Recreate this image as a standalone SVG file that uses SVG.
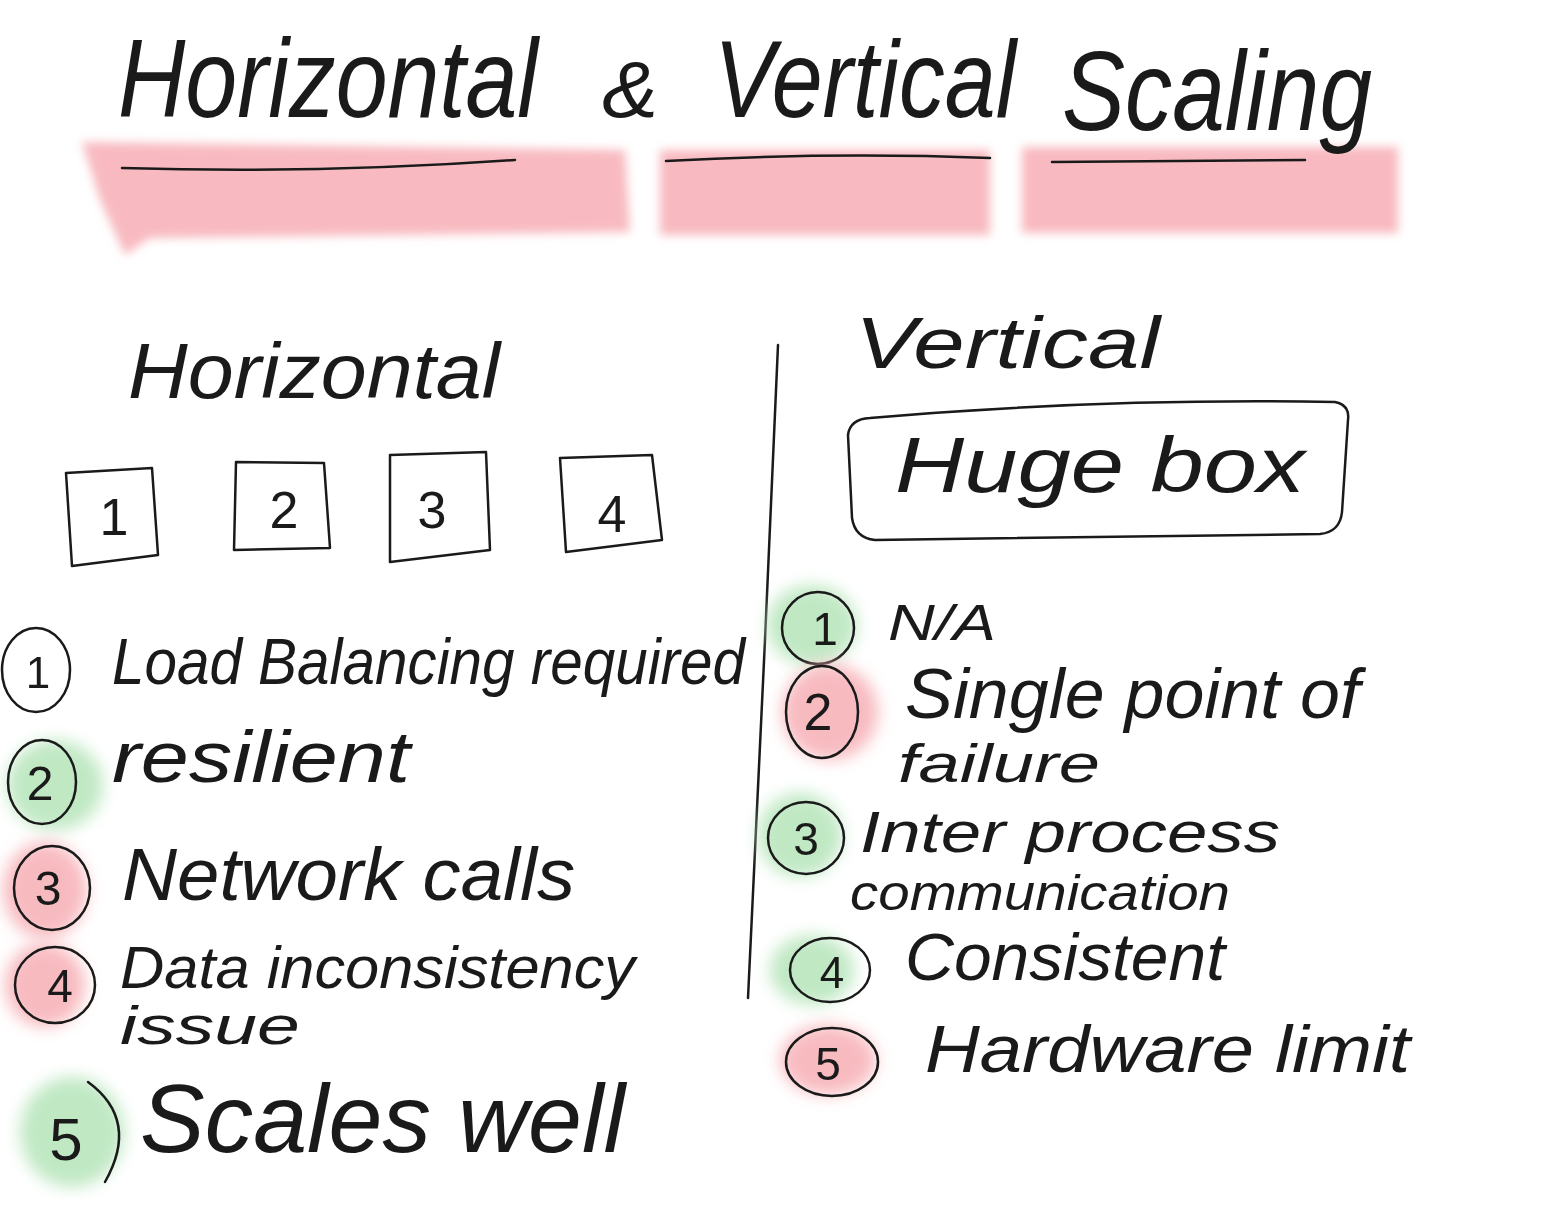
<svg xmlns="http://www.w3.org/2000/svg" width="1555" height="1217" viewBox="0 0 1555 1217">
<defs>
<filter id="blur" x="-30%" y="-30%" width="160%" height="160%"><feGaussianBlur stdDeviation="8"/></filter>
<filter id="blur2" x="-10%" y="-30%" width="120%" height="160%"><feGaussianBlur stdDeviation="5"/></filter>
</defs>
<style>
.ink{fill:none;stroke:#1a1a1a;stroke-width:2.5;stroke-linecap:round;stroke-linejoin:round}
.t{font-family:"Liberation Sans","DejaVu Sans",sans-serif;font-style:italic;fill:#1a1a1a;font-weight:normal}
.num{font-family:"Liberation Sans","DejaVu Sans",sans-serif;fill:#1a1a1a;text-anchor:middle}
.pink{fill:#f7b3b9;opacity:0.9}
.green{fill:#b9e6bd;opacity:0.9}
</style>
<rect width="1555" height="1217" fill="#ffffff"/>

<g id="title">
<g filter="url(#blur2)">
<path class="pink" d="M82 142 L625 150 L630 232 L150 238 L125 255 L100 200 Z"/>
<rect class="pink" x="660" y="150" width="330" height="85"/>
<rect class="pink" x="1022" y="147" width="376" height="86"/>
</g>
<text class="t" transform="translate(118 117) scale(1 1.2)" x="0" y="0" font-size="93" textLength="420" lengthAdjust="spacingAndGlyphs">Horizontal</text>
<text class="t" transform="translate(602 117) scale(1 1.0)" x="0" y="0" font-size="80" textLength="56" lengthAdjust="spacingAndGlyphs">&amp;</text>
<text class="t" transform="translate(714 117) scale(1 1.2)" x="0" y="0" font-size="91" textLength="302" lengthAdjust="spacingAndGlyphs">Vertical</text>
<text class="t" transform="translate(1062 130) scale(1 1.2)" x="0" y="0" font-size="94" textLength="310" lengthAdjust="spacingAndGlyphs">Scaling</text>
<path class="ink" d="M122 168 Q320 174 515 160"/>
<path class="ink" d="M666 161 Q830 152 990 158"/>
<path class="ink" d="M1052 162 L1305 160"/>
</g>

<g id="horizontal">
<text class="t" x="128" y="398" font-size="78" textLength="372" lengthAdjust="spacingAndGlyphs">Horizontal</text>
<g id="box1"><path class="ink" d="M66 473 L152 468 L158 555 L72 566 Z"/><text class="num" x="114" y="535" font-size="52">1</text></g>
<g id="box2"><path class="ink" d="M236 462 L324 463 L330 548 L234 550 Z"/><text class="num" x="284" y="528" font-size="52">2</text></g>
<g id="box3"><path class="ink" d="M390 455 L486 452 L490 550 L390 562 Z"/><text class="num" x="432" y="528" font-size="52">3</text></g>
<g id="box4"><path class="ink" d="M560 458 L652 455 L662 540 L566 552 Z"/><text class="num" x="612" y="532" font-size="52">4</text></g>
</g>

<g id="divider"><path class="ink" d="M778 345 L765 640 L748 998"/></g>

<g id="vertical">
<text class="t" x="855" y="368" font-size="72" textLength="305" lengthAdjust="spacingAndGlyphs">Vertical</text>
<g id="hugebox">
<path class="ink" d="M870 418 Q1100 398 1335 402 Q1350 405 1348 420 L1342 512 Q1340 532 1320 534 L875 540 Q855 538 852 518 L848 435 Q850 419 870 418 Z"/>
<text class="t" x="895" y="492" font-size="78" textLength="410" lengthAdjust="spacingAndGlyphs">Huge box</text>
</g>
</g>

<g id="left-list">
<g id="l1">
<ellipse class="ink" cx="36" cy="670" rx="34" ry="42"/>
<text class="num" x="38" y="688" font-size="44">1</text>
<text class="t" x="112" y="684" font-size="64" textLength="633" lengthAdjust="spacingAndGlyphs">Load Balancing required</text>
</g>
<g id="l2">
<ellipse class="green" cx="55" cy="785" rx="48" ry="45" filter="url(#blur)"/>
<ellipse class="ink" cx="42" cy="782" rx="34" ry="42"/>
<text class="num" x="40" y="800" font-size="48">2</text>
<text class="t" x="112" y="782" font-size="72" textLength="298" lengthAdjust="spacingAndGlyphs">resilient</text>
</g>
<g id="l3">
<ellipse class="pink" cx="45" cy="890" rx="42" ry="48" filter="url(#blur)"/>
<ellipse class="ink" cx="52" cy="888" rx="38" ry="42"/>
<text class="num" x="48" y="905" font-size="48">3</text>
<text class="t" x="122" y="900" font-size="74" textLength="453" lengthAdjust="spacingAndGlyphs">Network calls</text>
</g>
<g id="l4">
<ellipse class="pink" cx="45" cy="985" rx="40" ry="42" filter="url(#blur)"/>
<ellipse class="ink" cx="55" cy="985" rx="40" ry="38"/>
<text class="num" x="60" y="1002" font-size="46">4</text>
<text class="t" x="120" y="988" font-size="60" textLength="515" lengthAdjust="spacingAndGlyphs">Data inconsistency</text>
<text class="t" x="120" y="1044" font-size="54" textLength="180" lengthAdjust="spacingAndGlyphs">issue</text>
</g>
<g id="l5">
<ellipse class="green" cx="72" cy="1132" rx="52" ry="55" filter="url(#blur)"/>
<path class="ink" d="M88 1082 Q140 1120 105 1182"/>
<text class="num" x="66" y="1160" font-size="60">5</text>
<text class="t" x="140" y="1152" font-size="96" textLength="485" lengthAdjust="spacingAndGlyphs">Scales well</text>
</g>
</g>

<g id="right-list">
<g id="r1">
<ellipse class="green" cx="812" cy="625" rx="45" ry="40" filter="url(#blur)"/>
<ellipse class="ink" cx="818" cy="628" rx="36" ry="36"/>
<text class="num" x="825" y="645" font-size="46">1</text>
<text class="t" x="888" y="640" font-size="50" textLength="108" lengthAdjust="spacingAndGlyphs">N/A</text>
</g>
<g id="r2">
<ellipse class="pink" cx="830" cy="712" rx="48" ry="48" filter="url(#blur)"/>
<ellipse class="ink" cx="822" cy="712" rx="36" ry="46"/>
<text class="num" x="818" y="730" font-size="52">2</text>
<text class="t" x="905" y="718" font-size="70" textLength="455" lengthAdjust="spacingAndGlyphs">Single point of</text>
<text class="t" x="898" y="782" font-size="54" textLength="202" lengthAdjust="spacingAndGlyphs">failure</text>
</g>
<g id="r3">
<ellipse class="green" cx="800" cy="835" rx="42" ry="42" filter="url(#blur)"/>
<ellipse class="ink" cx="806" cy="838" rx="38" ry="36"/>
<text class="num" x="806" y="855" font-size="46">3</text>
<text class="t" x="860" y="852" font-size="58" textLength="420" lengthAdjust="spacingAndGlyphs">Inter process</text>
<text class="t" x="850" y="910" font-size="50" textLength="380" lengthAdjust="spacingAndGlyphs">communication</text>
</g>
<g id="r4">
<ellipse class="green" cx="812" cy="970" rx="42" ry="35" filter="url(#blur)"/>
<ellipse class="ink" cx="830" cy="970" rx="40" ry="32"/>
<text class="num" x="832" y="988" font-size="44">4</text>
<text class="t" x="905" y="980" font-size="66" textLength="320" lengthAdjust="spacingAndGlyphs">Consistent</text>
</g>
<g id="r5">
<ellipse class="pink" cx="828" cy="1060" rx="48" ry="35" filter="url(#blur)"/>
<ellipse class="ink" cx="832" cy="1062" rx="46" ry="34"/>
<text class="num" x="828" y="1080" font-size="46">5</text>
<text class="t" x="925" y="1072" font-size="66" textLength="485" lengthAdjust="spacingAndGlyphs">Hardware limit</text>
</g>
</g>
</svg>
